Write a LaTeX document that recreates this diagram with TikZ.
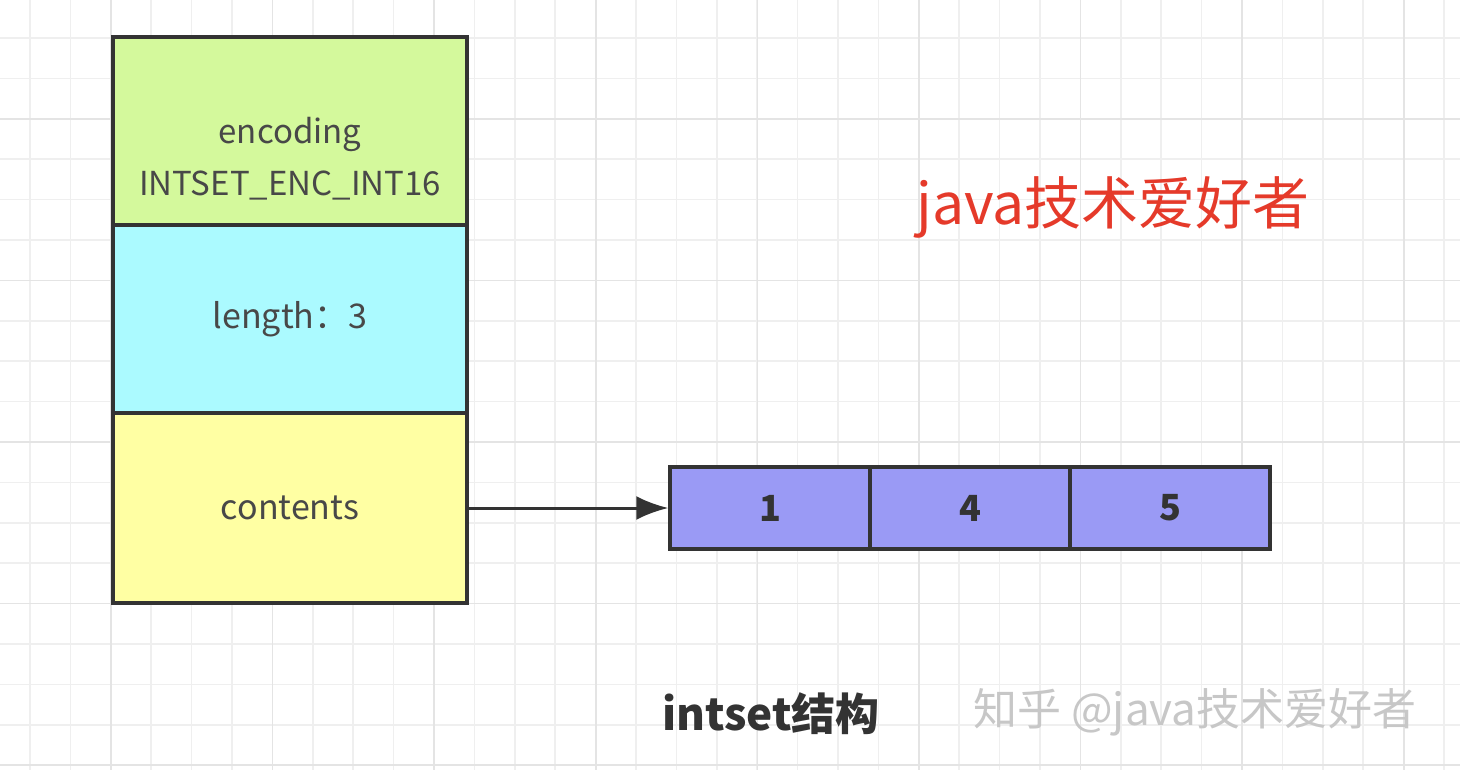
\documentclass[tikz,border=0pt]{standalone}
\usepackage{fontspec}
\setmainfont{Noto Sans CJK SC}
\usetikzlibrary{arrows.meta}
\definecolor{encgreen}{HTML}{D4F99C}
\definecolor{lencyan}{HTML}{ABFAFF}
\definecolor{contyellow}{HTML}{FFFFA3}
\definecolor{cellblue}{HTML}{9A9AF5}
\definecolor{edgegray}{HTML}{333333}
\definecolor{txtgray}{HTML}{484848}
\definecolor{titlered}{HTML}{E53A2A}
\definecolor{gridminor}{HTML}{EFEFEF}
\definecolor{gridmajor}{HTML}{E4E4E4}
\tikzset{
	field/.style={draw=edgegray, line width=3.5pt, minimum width=354pt, minimum height=188pt, inner sep=0pt, text=txtgray, font=\fontsize{34}{50}\selectfont, align=center},
	cell/.style={draw=edgegray, line width=3.5pt, fill=cellblue, minimum width=200pt, minimum height=82pt, inner sep=0pt, text=edgegray, font=\fontsize{36}{40}\selectfont\bfseries},
}
\begin{document}
\begin{tikzpicture}[x=1pt,y=-1pt]
	\useasboundingbox (0,0) rectangle (1460,770);
	\fill[white] (0,0) rectangle (1460,770);
	
	% grid
	\foreach \k in {0,...,35}
		\draw[gridminor, line width=1.5pt] (30+40.4*\k,0) -- (30+40.4*\k,770);
	\foreach \k in {0,...,18}
		\draw[gridminor, line width=1.5pt] (0,38+40.4*\k) -- (1460,38+40.4*\k);
	\foreach \k in {0,...,8}
		\draw[gridmajor, line width=1.5pt] (111+161.6*\k,0) -- (111+161.6*\k,770);
	\foreach \k in {0,...,4}
		\draw[gridmajor, line width=1.5pt] (0,118.8+161.6*\k) -- (1460,118.8+161.6*\k);
	
	\node[field, fill=encgreen, label={[text=txtgray, font=\fontsize{33}{52}\selectfont, align=center, yshift=-28pt]center:encoding\\INTSET\_ENC\_INT16}] (enc) at (290,131) {};
	\node[field, fill=lencyan] (len) at (290,319) {length：3};
	\node[field, fill=contyellow, minimum height=190pt] (cont) at (290,508) {contents};
	
	\node[cell] (c1) at (770,508) {1};
	\node[cell] (c4) at (970,508) {4};
	\node[cell] (c5) at (1170,508) {5};
	
	\draw[edgegray, line width=3pt, -{Latex[length=32pt, width=24pt]}] (cont) -- (c1);
	
	\node[text=titlered, font=\fontsize{57}{60}\selectfont] (brand) at (1113,207) {java技术爱好者};
	\node[text=edgegray, font=\fontsize{44}{48}\selectfont\bfseries] (caption) at (771,714) {intset结构};
	\node[text=black!22, font=\fontsize{44}{48}\selectfont] (mark) at (1195,712) {知乎 @java技术爱好者};
\end{tikzpicture}
\end{document}
